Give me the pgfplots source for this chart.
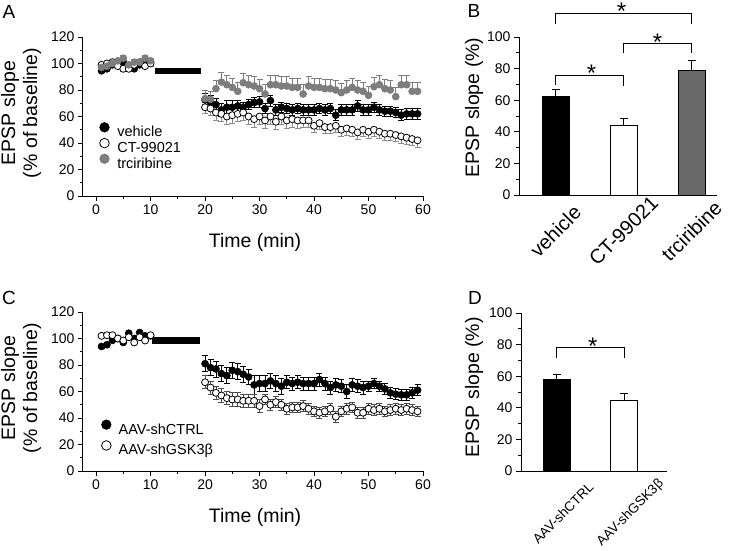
\documentclass[border=0pt]{standalone}
\usepackage{fontspec}
\setmainfont{Liberation Sans}
\usepackage{pgfplots}
\pgfplotsset{compat=1.18}
\usepackage{pgfplotstable}

\definecolor{mgray}{RGB}{125,125,125}
\definecolor{bgray}{RGB}{105,105,105}
\newcommand{\fs}[1]{\fontsize{#1}{#1}\selectfont}

% panel A: x, mean, sem
\pgfplotstableread{
x y e
1 94.5 1.5
2 96 1.5
3 99 1.5
4 101 1.5
5 101 1.5
6 97 1.5
7 96 1.5
8 99 1.5
9 100 1.5
10 101 1.5
20 72.5 5
21 71 5
22 69 5
23 65 5
24 67 5
25 67 5
26 68 4
27 67 4
28 69 4
29 70.5 4
30 71 4
31 66 4
32 72 4
33 65 4
34 67 4
35 66 4
36 65 4
37 66 4
38 65 4
39 65 4
40 65 4
41 66 4
42 65 4
43 66 4
44 61 4
45 65 4
46 65 4
47 65 4
48 68 4
49 65 4
50 65 4
51 67 4
52 65 4
53 64 4
54 64 4
55 63 4
56 61 4
57 62 4
58 62 4
59 62 4
}\tabAveh

\pgfplotstableread{
x y e
1 99 2
2 100 2
3 101 2
4 98 2
5 96 2
6 96 2
7 99 2
8 101 2
9 98 2
10 100 2
20 67 5
21 66 5
22 63 6
23 62 6
24 60 6
25 61 6
26 62 6
27 63 6
28 60 6
29 58 6
30 60 6
31 57 6
32 60 6
33 56 6
34 60 6
35 57 6
36 58 6
37 57 6
38 57 5
39 57 5
40 53 5
41 55 5
42 52 5
43 52 5
44 53 5
45 50 5
46 51 5
47 50 5
48 48 5
49 50 5
50 48.5 5
51 50 5
52 48.5 5
53 47 5
54 47 5
55 46 5
56 45 5
57 44 5
58 43 5
59 42 5
}\tabAct

\pgfplotstableread{
x y e
1 97 2
2 98 2
3 100 2
4 102 2
5 104 2
6 99 2
7 101 2
8 101 2
9 104 2
10 102 2
20 73.5 6
21 73 6
22 81 6
23 86 7
24 84 7
25 82 7
26 79 7
27 85.5 7
28 84 7
29 83 7
30 81 7
31 77 7
32 84 7
33 84 7
34 83 7
35 83 7
36 82 7
37 82 7
38 77 7
39 83 7
40 82 7
41 82 7
42 81 7
43 81 7
44 80 7
45 78 7
46 80 7
47 82 7
48 80 7
49 79 7
50 76 7
51 82.5 7
52 84 7
53 81 7
54 80 7
55 75 7
56 84 7
57 84 7
58 79 7
59 79 7
}\tabAtrc

% panel C
\pgfplotstableread{
x y e
1 94 1.5
2 95.3 1.5
3 98.6 1.5
4 100 1.5
5 97 1.5
6 104 1.5
7 100 1.5
8 104.5 1.5
9 102 1.5
10 102 1.5
20 81 6
21 78 6
22 77 6
23 73.5 6
24 72 6
25 76 6
26 75 6
27 73 6
28 71 6
29 65 7
30 66 6
31 66 6
32 68 6
33 66 6
34 64 6
35 67 5
36 66 5
37 67 5
38 66 5
39 66 5
40 66 5
41 69 5
42 66 5
43 63 5
44 65 5
45 64 5
46 60 5
47 65 5
48 64 5
49 63 5
50 64 4
51 66 4
52 64 4
53 62 4
54 59 4
55 58 4
56 57.5 4
57 57.5 4
58 59 4
59 61 4
}\tabCctrl

\pgfplotstableread{
x y e
1 102 1.5
2 102.5 1.5
3 102.5 1.5
4 100 1.5
5 98.5 1.5
6 101 1.5
7 97 1.5
8 101 1.5
9 98.5 1.5
10 102.5 1.5
20 67 5
21 63 5
22 59 5
23 57 5
24 55 5
25 54 5
26 54 5
27 53 5
28 53 5
29 53 5
30 49 5
31 54 4
32 50 4
33 52 4
34 50 4
35 47 4
36 48 4
37 48 4
38 49 4
39 47 4
40 45 4
41 44 4
42 45 4
43 47 4
44 41 4
45 45 4
46 47 4
47 48 4
48 44 4
49 44 4
50 47 4
51 46 4
52 47 4
53 45 4
54 46 4
55 47 4
56 46 4
57 47 4
58 46 4
59 45 4
}\tabCgsk

\pgfplotsset{
  base/.style={
    scale only axis, anchor=south west,
    axis x line*=bottom, axis y line*=left,
    axis line style={line width=1pt},
    tick align=outside, major tick length=5pt, minor tick length=3pt,
    every tick/.style={black, line width=0.8pt},
    tick label style={font=\fs{14}},
    /pgf/number format/assume math mode=true,
    clip=false,
  },
  timeax/.style={base, width=340pt, height=159pt,
    xmin=-2.4, xmax=60, ymin=0, ymax=120,
    xtick={0,10,...,60}, ytick={0,20,...,120},
    minor x tick num=1, minor y tick num=1,
    xlabel={Time (min)},
    xlabel style={font=\fs{19.5}, at={(axis description cs:0.506,-0.289)}, anchor=center},
    ylabel={EPSP slope\\(\% of baseline)},
    ylabel style={font=\fontsize{19.5}{22}\selectfont, align=center,
      at={(axis description cs:-0.182,0.522)}, anchor=center},
    legend style={draw=none, fill=none, font=\fs{14.5}, inner sep=0pt,
      nodes={inner sep=0pt}, column sep=8pt, cells={anchor=west}},
  },
  lg/.style={legend image code/.code={\draw[##1, mark size=4.8pt] plot coordinates {(4.8pt,5pt)};}},
  ebar/.style={error bars/.cd, y dir=#1, y explicit,
    error bar style={line width=0.8pt},
    error mark options={rotate=90, mark size=3pt, line width=0.8pt}},
  blk/.style={only marks, mark=*, mark size=3.5pt, black, mark options={fill=black, draw=black, line width=0.6pt}, lg},
  opn/.style={only marks, mark=*, mark size=3.5pt, black!45, mark options={fill=white, draw=black, line width=0.8pt}, lg},
  gry/.style={only marks, mark=*, mark size=3.5pt, mgray, mark options={fill=mgray, draw=mgray, line width=0.6pt}, lg},
  barax/.style={base, height=158pt, ymin=0, ymax=100, ytick={0,20,...,100}, minor y tick num=1,
    major x tick style={draw=none},
    ylabel={EPSP slope (\%)}, ylabel style={font=\fs{19.5}, anchor=center}},
  bars/.style={ybar, bar width=27pt, draw=black, line width=1pt, fill=#1,
    error bars/.cd, y dir=plus, y explicit,
    error bar style={line width=1pt, black},
    error mark options={rotate=90, mark size=4pt, line width=1pt, black}},
}

\begin{document}
\begin{tikzpicture}
\useasboundingbox (0pt,0pt) rectangle (739pt,-550pt);

% ---------- A ----------
\begin{axis}[timeax, at={(83pt,-196pt)},
  legend style={at={(axis description cs:0.0485,0.4635)}, anchor=north west}]
\fill[black] (axis cs:10.9,91.8) rectangle (axis cs:19.3,96.8);
\addplot[blk, ebar=both] table[x=x, y=y, y error=e] {\tabAveh};
\addplot[opn, ebar=minus] table[x=x, y=y, y error=e] {\tabAct};
\addplot[gry, ebar=plus] table[x=x, y=y, y error=e] {\tabAtrc};
\legend{vehicle, CT-99021, trciribine}
\end{axis}

% ---------- B ----------
\begin{axis}[barax, at={(519pt,-195pt)}, width=198pt,
  xmin=0.463, xmax=3.375, xtick={1,2,3},
  xticklabels={vehicle, CT-99021, trciribine},
  xticklabel style={font=\fs{20}, yshift=-31pt, rotate=45, anchor=center},
  ylabel style={at={(axis description cs:-0.227,0.554)}}]
\addplot[bars=black] coordinates {(1,62.5) +- (0,4.5)};
\addplot[bars=white] coordinates {(2,43.8) +- (0,4.8)};
\addplot[bars=bgray] coordinates {(3,79.1) +- (0,6.3)};
\draw[line width=1pt] (axis cs:1,69.6) |- (axis cs:2,75.5) -- (axis cs:2,69.3);
\draw[line width=1pt] (axis cs:2,89.7) |- (axis cs:3,96) -- (axis cs:3,89.7);
\draw[line width=1pt] (axis cs:1,108) |- (axis cs:3,115) -- (axis cs:3,108);
\node[font=\fs{24}, anchor=base] at (axis cs:1.53,72) {*};
\node[font=\fs{24}, anchor=base] at (axis cs:2.5,91.6) {*};
\node[font=\fs{24}, anchor=base] at (axis cs:1.97,111) {*};
\end{axis}

% ---------- C ----------
\begin{axis}[timeax, at={(83pt,-471pt)},
  legend style={at={(axis description cs:0.054,0.323)}, anchor=north west,
    row sep=5pt, column sep=7.5pt}]
\fill[black] (axis cs:10.3,96) rectangle (axis cs:19,101.4);
\addplot[blk, ebar=both] table[x=x, y=y, y error=e] {\tabCctrl};
\addplot[opn, black!70, ebar=both] table[x=x, y=y, y error=e] {\tabCgsk};
\legend{AAV-shCTRL, AAV-shGSK3β}
\end{axis}

% ---------- D ----------
\begin{axis}[barax, at={(521pt,-471pt)}, width=146pt,
  xmin=0.467, xmax=2.63, xtick={1,2},
  xticklabels={AAV-shCTRL, AAV-shGSK3β},
  xticklabel style={font=\fs{13.5}, xshift=6pt, yshift=-37pt, rotate=45, anchor=center},
  ylabel style={at={(axis description cs:-0.322,0.53)}}]
\addplot[bars=black] coordinates {(1,57.9) +- (0,3.1)};
\addplot[bars=white] coordinates {(2,44.7) +- (0,4.2)};
\draw[line width=1pt] (axis cs:1,71.3) |- (axis cs:2,78.2) -- (axis cs:2,71.3);
\node[font=\fs{24}, anchor=base] at (axis cs:1.53,73.8) {*};
\end{axis}

% panel letters
\node[font=\fs{19}] at (9pt,-12pt) {A};
\node[font=\fs{19}] at (474pt,-11pt) {B};
\node[font=\fs{19}] at (9pt,-298pt) {C};
\node[font=\fs{19}] at (475pt,-298pt) {D};
\end{tikzpicture}
\end{document}
